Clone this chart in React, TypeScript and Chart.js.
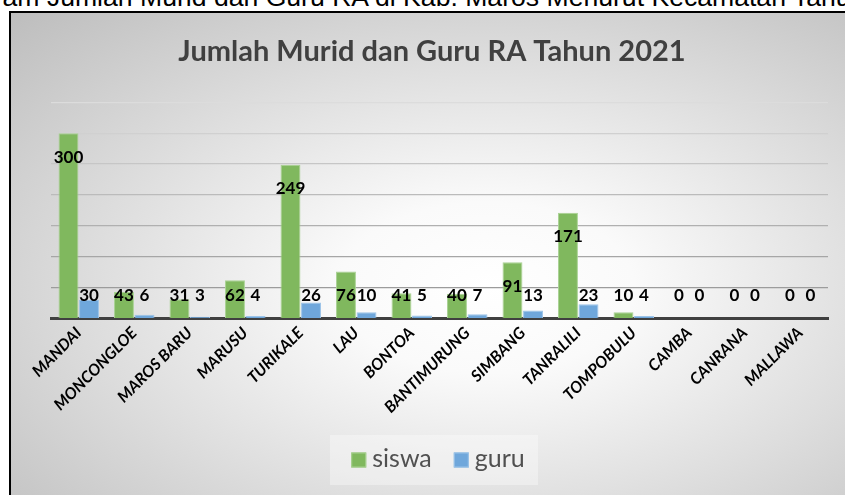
import React, { useEffect, useRef } from "react";
import { Chart, registerables } from "chart.js";

Chart.register(...registerables);

const PAGE_HEADING =
  "Diagram Jumlah Murid dan Guru RA di Kab. Maros Menurut Kecamatan Tahun 2021";
const CHART_TITLE = "Jumlah Murid dan Guru RA Tahun 2021";

const categories = [
  "MANDAI",
  "MONCONGLOE",
  "MAROS BARU",
  "MARUSU",
  "TURIKALE",
  "LAU",
  "BONTOA",
  "BANTIMURUNG",
  "SIMBANG",
  "TANRALILI",
  "TOMPOBULU",
  "CAMBA",
  "CANRANA",
  "MALLAWA",
];
const siswa = [300, 43, 31, 62, 249, 76, 41, 40, 91, 171, 10, 0, 0, 0];
const guru = [30, 6, 3, 4, 26, 10, 5, 7, 13, 23, 4, 0, 0, 0];
const seriesNames = ["siswa", "guru"];
const seriesColors = ["#80B85E", "#6FA7DB"];
const seriesBorders = ["#A9D293", "#9CC3E8"];
const Y_MAX = 350;
const Y_STEP = 50;
const gridColors: Record<number, string> = {
  350: "#dcdcdc",
  300: "#d0d0d0",
  250: "#c6c6c6",
  200: "#bbbbbb",
  150: "#b0b0b0",
  100: "#a6a6a6",
  50: "#9c9c9c",
  0: "rgba(0,0,0,0)",
};

const W = 845;
const H = 495;

const overlayPlugin = {
  id: "overlay",
  afterDatasetsDraw(chart: any) {
    const ctx = chart.ctx;
    ctx.save();
    ctx.font = "bold 17px Lato";
    ctx.fillStyle = "#000000";
    ctx.textAlign = "center";
    ctx.textBaseline = "middle";
    chart.data.datasets.forEach((ds: any, i: number) => {
      const meta = chart.getDatasetMeta(i);
      meta.data.forEach((bar: any, j: number) => {
        const base = bar.base;
        const y = Math.min(bar.y + 24, base - 22.5);
        ctx.fillText(String(ds.data[j]), bar.x, y);
      });
    });
    ctx.restore();
  },
  afterDraw(chart: any) {
    const ctx = chart.ctx;
    ctx.save();
    // title
    ctx.font = "bold 29px Lato";
    ctx.fillStyle = "#404040";
    ctx.textAlign = "center";
    ctx.textBaseline = "alphabetic";
    ctx.fillText(CHART_TITLE, 432, 61);

    // legend
    ctx.fillStyle = "rgba(255,255,255,0.35)";
    ctx.fillRect(330, 435, 208, 50);
    ctx.font = "25px Lato";
    const box = 15;
    const gapText = 6;
    const gapItem = 22;
    const widths = chart.data.datasets.map((ds: any) => ctx.measureText(ds.label).width);
    let total = 0;
    widths.forEach((w: number, i: number) => {
      total += box + gapText + w + (i < widths.length - 1 ? gapItem : 0);
    });
    let x = 438 - total / 2;
    chart.data.datasets.forEach((ds: any, i: number) => {
      ctx.fillStyle = ds.backgroundColor;
      ctx.fillRect(x, 452.5, box, box);
      ctx.strokeStyle = ds.borderColor;
      ctx.lineWidth = 1;
      ctx.strokeRect(x + 0.5, 453, box - 1, box - 1);
      ctx.fillStyle = "#505050";
      ctx.textAlign = "left";
      ctx.textBaseline = "alphabetic";
      ctx.fillText(ds.label, x + box + gapText, 467.3);
      x += box + gapText + widths[i] + gapItem;
    });
    ctx.restore();
  },
};

export default function App() {
  const ref = useRef<HTMLCanvasElement | null>(null);

  useEffect(() => {
    if (!ref.current) return;
    const chart = new Chart(ref.current, {
      type: "bar",
      data: {
        labels: categories,
        datasets: [
          {
            label: seriesNames[0],
            data: siswa,
            backgroundColor: seriesColors[0],
            borderColor: seriesBorders[0],
            borderWidth: 1,
            categoryPercentage: 0.74,
            barPercentage: 0.97,
          },
          {
            label: seriesNames[1],
            data: guru,
            backgroundColor: seriesColors[1],
            borderColor: seriesBorders[1],
            borderWidth: 1,
            categoryPercentage: 0.74,
            barPercentage: 0.97,
          },
        ],
      },
      options: {
        responsive: false,
        animation: false,
        layout: {
          padding: { left: 51, right: 17, top: 102.3, bottom: 56.5 },
        },
        plugins: {
          legend: { display: false },
          title: { display: false },
          tooltip: { enabled: false },
        },
        scales: {
          x: {
            grid: { display: false },
            border: { display: true, color: "#404040", width: 3 },
            ticks: {
              autoSkip: false,
              minRotation: 45,
              maxRotation: 45,
              padding: -3,
              color: "#000000",
              font: { family: "Lato", style: "italic", weight: "bold", size: 16 },
            },
            afterFit: (scale: any) => {
              scale.height = 120;
            },
          },
          y: {
            min: 0,
            max: Y_MAX,
            ticks: { display: false, stepSize: Y_STEP },
            border: { display: false },
            grid: {
              drawTicks: false,
              lineWidth: 1.2,
              color: (c: any) => gridColors[c.tick ? c.tick.value : 0] || "#c0c0c0",
            },
            afterFit: (scale: any) => {
              scale.width = 0;
            },
          },
        },
      },
      plugins: [overlayPlugin],
    });
    return () => chart.destroy();
  }, []);

  return (
    <div
      style={{
        position: "fixed",
        left: 0,
        top: 0,
        width: W,
        height: H,
        overflow: "hidden",
        background: "#ffffff",
      }}
    >
      <div
        style={{
          position: "absolute",
          left: -61,
          top: -16,
          whiteSpace: "nowrap",
          fontFamily: "'Liberation Sans', Arial, sans-serif",
          fontSize: 26.6,
          lineHeight: "26px",
          color: "#000",
        }}
      >
        {PAGE_HEADING}
      </div>
      <div
        style={{
          position: "absolute",
          left: 9,
          top: 11,
          width: W - 9,
          height: H - 11,
          boxSizing: "border-box",
          borderLeft: "2px solid #000",
          borderTop: "2px solid #000",
          background:
            "radial-gradient(ellipse farthest-corner at 57% 57%, #ffffff 0%, #fafafa 22%, #bdbdbd 100%)",
        }}
      />
      <canvas
        ref={ref}
        width={W}
        height={H}
        style={{ position: "absolute", left: 0, top: 0, width: W, height: H }}
      />
    </div>
  );
}
